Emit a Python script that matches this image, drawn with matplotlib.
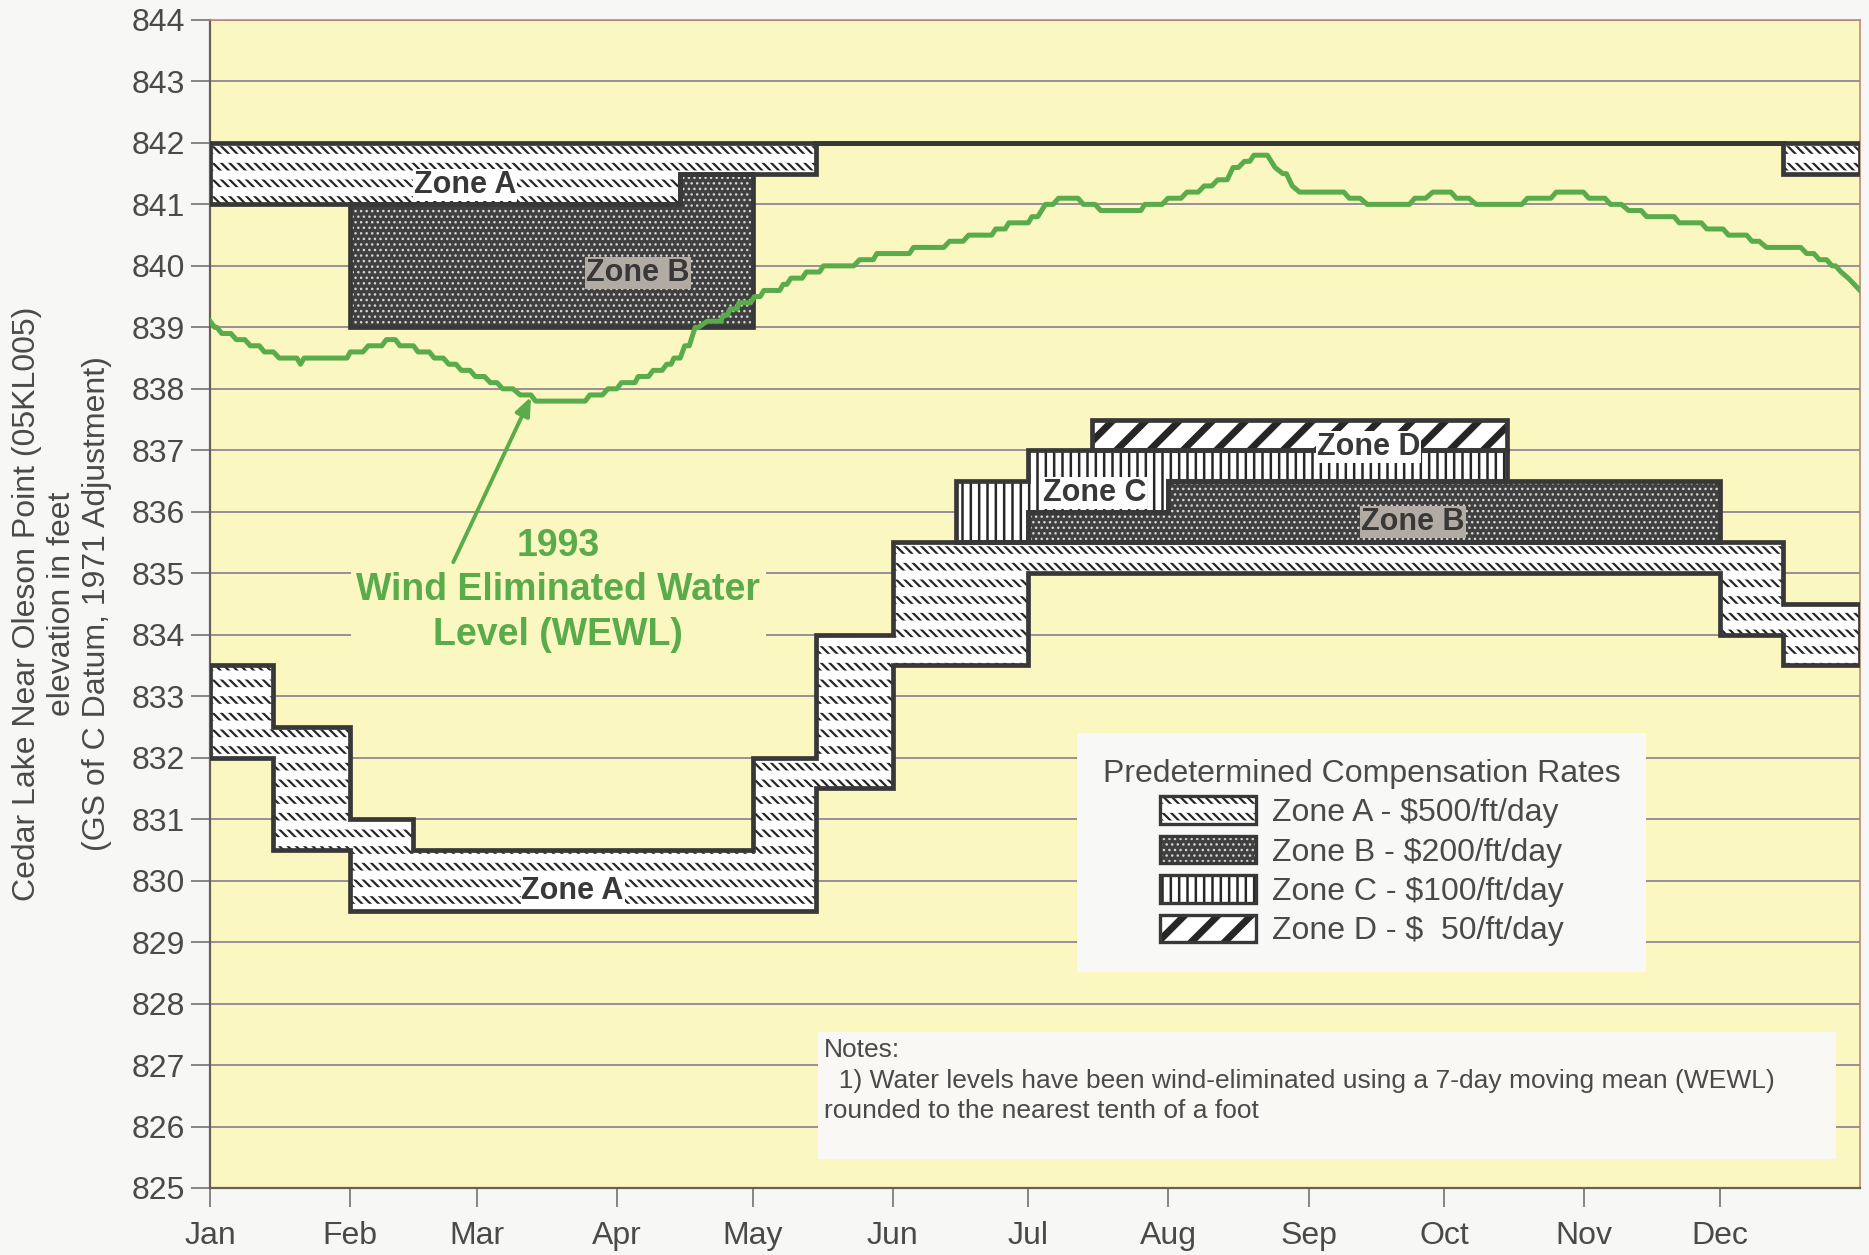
import matplotlib
matplotlib.use("Agg")
import matplotlib.pyplot as plt
from matplotlib.patches import Patch, Rectangle
from matplotlib.legend_handler import HandlerTuple, HandlerPatch

plt.rcParams['font.family'] = ['Liberation Sans', 'DejaVu Sans']

# ---------------- data ----------------
month_start_day = [0, 31, 59, 90, 120, 151, 181, 212, 243, 273, 304, 334]
month_labels = ['Jan', 'Feb', 'Mar', 'Apr', 'May', 'Jun',
                'Jul', 'Aug', 'Sep', 'Oct', 'Nov', 'Dec']
elev_ticks = list(range(825, 845))

# Zone A (lower, drawdown band): segment edges (day of year) and elevations
zoneA_low_edges = [0, 14, 31, 45, 120, 134, 151, 181, 334, 348, 365]
zoneA_low_top = [833.5, 832.5, 831.0, 830.5, 832.0, 834.0, 835.5, 835.5, 835.5, 834.5]
zoneA_low_bot = [832.0, 830.5, 829.5, 829.5, 829.5, 831.5, 833.5, 835.0, 834.0, 833.5]

# Zone A (upper, flooding band)
zoneA_up_edges = [0, 104, 134, 348, 365]
zoneA_up_top = [842.0, 842.0, 842.0, 842.0]
zoneA_up_bot = [841.0, 841.5, 842.0, 841.5]

# Zone B (upper)
zoneB_up_edges = [31, 104, 120]
zoneB_up_top = [841.0, 841.5]
zoneB_up_bot = [839.0, 839.0]

# Zone B (lower)
zoneB_low_edges = [181, 212, 334]
zoneB_low_top = [836.0, 836.5]
zoneB_low_bot = [835.5, 835.5]

# Zone C
zoneC_edges = [165, 181, 212, 287]
zoneC_top = [836.5, 837.0, 837.0]
zoneC_bot = [835.5, 836.0, 836.5]

# Zone D
zoneD_edges = [195, 287]
zoneD_top = [837.5]
zoneD_bot = [837.0]

# 1993 WEWL (7-day mean rounded to 0.1 ft): plateaus (start day, end day, level)
wewl_start = [0, 1, 2.6, 5.8, 8.9, 12, 15.3, 20, 20.8, 31, 35, 39, 42, 46, 49.6,
              52.8, 55.6, 58.7, 62, 64.7, 68.6, 72, 84, 88, 91, 94.7, 98, 101,
              102.6, 105, 107.3, 110, 113.5, 115, 117, 120.4, 122.5, 126.8, 128.5,
              131.9, 135.7, 143.7, 147.5, 155.6, 163.6, 167.8, 173.8, 176.7, 181.8,
              184.8, 187.7, 193.2, 197, 206.8, 211.9, 216.1, 219.9, 222.9, 226.3,
              228.8, 230.9, 235.6, 237.3, 239.4, 241, 252, 256, 266.5, 270.5, 275.7,
              280.1, 291.4, 297.8, 305, 309.8, 313.8, 317.8, 325, 331.1, 335.9,
              341.1, 344.3, 353.2, 356, 358.8, 360.8, 362.4, 365]
wewl_end = [0, 1.5, 4.6, 7.7, 10.9, 14, 19.2, 20, 30.3, 33.8, 38, 41, 45, 48.5, 51.6,
            54.4, 57.5, 60.7, 63.5, 67, 71, 83, 86.8, 90, 94, 97, 100, 102,
            104, 106, 108, 113, 114.5, 116.6, 119.6, 121.7, 126, 127.6, 131,
            134.8, 142.4, 146.7, 154.7, 162.3, 166.6, 172.9, 175.9, 181, 183.1,
            186.5, 192, 195.8, 205.9, 210.6, 214.8, 218.6, 221.6, 225, 227.5,
            230, 233.9, 235.6, 238.1, 239.4, 250.8, 254.4, 265.3, 268.9, 274.5, 278.5,
            290.2, 296.6, 303.8, 308.6, 312.2, 316.6, 323.9, 329.9, 334.7, 339.9,
            342.7, 351.9, 354.8, 357.6, 359.6, 360.8, 362.4, 365]
wewl_ft = [839.1, 839.0, 838.9, 838.8, 838.7, 838.6, 838.5, 838.4, 838.5, 838.6, 838.7,
           838.8, 838.7, 838.6, 838.5, 838.4, 838.3, 838.2, 838.1, 838.0, 837.9, 837.8,
           837.9, 838.0, 838.1, 838.2, 838.3, 838.4, 838.5, 838.7, 839.0, 839.1, 839.2,
           839.3, 839.4, 839.5, 839.6, 839.7, 839.8, 839.9, 840.0, 840.1, 840.2, 840.3,
           840.4, 840.5, 840.6, 840.7, 840.8, 841.0, 841.1, 841.0, 840.9, 841.0, 841.1,
           841.2, 841.3, 841.4, 841.6, 841.7, 841.8, 841.6, 841.5, 841.3, 841.2, 841.1,
           841.0, 841.1, 841.2, 841.1, 841.0, 841.1, 841.2, 841.1, 841.0, 840.9, 840.8,
           840.7, 840.6, 840.5, 840.4, 840.3, 840.2, 840.1, 840.0, 839.9, 839.8, 839.6]

legend_title = 'Predetermined Compensation Rates'
legend_labels = ['Zone A - $500/ft/day', 'Zone B - $200/ft/day',
                 'Zone C - $100/ft/day', 'Zone D - $  50/ft/day']

# ---------------- style ----------------
AX_BG = '#fbf7c0'
FIG_BG = '#f7f7f5'
DARK = '#383838'
HATCH = '#262626'
TXT = '#4a4a4a'
GRID = '#8f8899'
GREEN = '#5aab4b'
B_FACE = '#404040'
B_DOTS = '#d6d6d6'
OUT_LW = 3.4

STYLES = {
    'A': [dict(facecolor='white', edgecolor=HATCH, hatch='\\\\\\\\', hlw=1.6),
          dict(facecolor='none', edgecolor='white', hatch='-', hlw=6.5)],
    'B': [dict(facecolor=B_FACE, edgecolor=B_DOTS, hatch='...', hlw=1.0)],
    'C': [dict(facecolor='white', edgecolor=HATCH, hatch='||', hlw=1.8)],
    'D': [dict(facecolor='white', edgecolor=HATCH, hatch='/', hlw=5.0)],
}

fig = plt.figure(figsize=(18.69, 12.55), dpi=100, facecolor=FIG_BG)
ax = fig.add_axes([0.1124, 0.0534, 0.8828, 0.9307])
ax.set_facecolor(AX_BG)
ax.set_xlim(0, 365)
ax.set_ylim(825, 844)

ax.set_yticks(elev_ticks)
ax.set_yticklabels([str(v) for v in elev_ticks])
ax.set_xticks(month_start_day)
ax.set_xticklabels(month_labels)
ax.tick_params(axis='y', direction='out', length=14, width=1.3, color='#7d7d7d',
               pad=4, labelsize=23, labelcolor=TXT)
ax.tick_params(axis='x', direction='out', length=14, width=1.3, color='#7d7d7d',
               pad=10, labelsize=23, labelcolor=TXT)
ax.grid(axis='y', color=GRID, lw=1.3, zorder=0)
ax.set_axisbelow(True)
for s in ['top', 'right']:
    ax.spines[s].set_color('#b98a78')
    ax.spines[s].set_linewidth(1.2)
for s in ['left', 'bottom']:
    ax.spines[s].set_color('#6a5e58')
    ax.spines[s].set_linewidth(1.6)


def band(edges, lower, upper):
    xs, ys = [], []
    for i in range(len(upper)):
        xs += [edges[i], edges[i + 1]]
        ys += [upper[i], upper[i]]
    for i in reversed(range(len(lower))):
        xs += [edges[i + 1], edges[i]]
        ys += [lower[i], lower[i]]
    return xs, ys


def set_hlw(p, lw):
    if hasattr(p, 'set_hatch_linewidth'):
        p.set_hatch_linewidth(lw)


def draw_zone(edges, lower, upper, kind):
    xs, ys = band(edges, lower, upper)
    for k, st in enumerate(STYLES[kind]):
        p, = ax.fill(xs, ys, facecolor=st['facecolor'], edgecolor=st['edgecolor'],
                     hatch=st['hatch'], lw=0, zorder=2 + 0.1 * k)
        set_hlw(p, st['hlw'])
    ax.fill(xs, ys, facecolor='none', edgecolor=DARK, lw=OUT_LW, joinstyle='miter', zorder=3)


draw_zone(zoneA_low_edges, zoneA_low_bot, zoneA_low_top, 'A')
draw_zone(zoneA_up_edges, zoneA_up_bot, zoneA_up_top, 'A')
draw_zone(zoneB_up_edges, zoneB_up_bot, zoneB_up_top, 'B')
draw_zone(zoneB_low_edges, zoneB_low_bot, zoneB_low_top, 'B')
draw_zone(zoneC_edges, zoneC_bot, zoneC_top, 'C')
draw_zone(zoneD_edges, zoneD_bot, zoneD_top, 'D')

# WEWL line
lx, ly = [], []
for s, e, v in zip(wewl_start, wewl_end, wewl_ft):
    lx += [s, e]
    ly += [v, v]
ax.plot(lx, ly, color=GREEN, lw=3.6, solid_joinstyle='round', zorder=6)

# zone labels
lab_kw = dict(ha='center', va='center', fontsize=22, fontweight='bold', color=DARK, zorder=7)
white_box = dict(facecolor='white', edgecolor='none', pad=0.6)
grey_box = dict(facecolor='#b2aba4', edgecolor='none', pad=0.6)
ax.text(56.4, 841.32, 'Zone A', bbox=white_box, **lab_kw)
ax.text(94.7, 839.89, 'Zone B', bbox=grey_box, **lab_kw)
ax.text(80.2, 829.83, 'Zone A', bbox=white_box, **lab_kw)
ax.text(195.7, 836.30, 'Zone C', bbox=white_box, **lab_kw)
ax.text(256.3, 837.06, 'Zone D', bbox=white_box, **lab_kw)
ax.text(266.1, 835.84, 'Zone B', bbox=grey_box, **lab_kw)

# annotation
ax.text(77, 834.72, '1993\nWind Eliminated Water\nLevel (WEWL)', ha='center', va='center',
        fontsize=27, fontweight='bold', color=GREEN, linespacing=1.3, zorder=4,
        bbox=dict(facecolor=AX_BG, edgecolor='none', pad=4))
ax.annotate('', xy=(71.0, 837.87), xytext=(53.8, 835.18),
            arrowprops=dict(arrowstyle='-|>,head_length=1.1,head_width=0.45', color=GREEN,
                            lw=2.8, shrinkA=0, shrinkB=0), zorder=8)


# legend
class HatchPatchHandler(HandlerPatch):
    def create_artists(self, legend, orig_handle, xdescent, ydescent, width, height,
                       fontsize, trans):
        arts = super().create_artists(legend, orig_handle, xdescent, ydescent, width,
                                      height, fontsize, trans)
        for a in arts:
            if hasattr(orig_handle, 'get_hatch_linewidth'):
                a.set_hatch_linewidth(orig_handle.get_hatch_linewidth())
        return arts


def legend_handle(kind):
    parts = []
    for st in STYLES[kind]:
        p = Patch(facecolor=st['facecolor'], edgecolor=st['edgecolor'], hatch=st['hatch'], lw=0)
        set_hlw(p, st['hlw'])
        parts.append(p)
    parts.append(Patch(facecolor='none', edgecolor=DARK, lw=2.4))
    return tuple(parts)


handles = [legend_handle(k) for k in 'ABCD']
leg = ax.legend(handles, legend_labels, title=legend_title, loc='upper left',
                bbox_to_anchor=(0.516, 0.403), fontsize=23, title_fontsize=23,
                frameon=True, fancybox=False, framealpha=1, facecolor='#f8f8f6',
                edgecolor='none', borderpad=0.8, handlelength=3.0, handleheight=0.95,
                handletextpad=0.5, labelspacing=0.24,
                handler_map={tuple: HandlerTuple(ndivide=1, pad=0),
                             Patch: HatchPatchHandler()})
leg.get_title().set_color(TXT)
for t in leg.get_texts():
    t.set_color(TXT)
leg.set_zorder(9)

# notes box
ax.add_patch(Rectangle((0.3685, 0.0248), 0.617, 0.1088, transform=ax.transAxes,
                       facecolor='#f9f8f4', edgecolor='none', zorder=9))
ax.text(0.372, 0.1285, 'Notes:\n  1) Water levels have been wind-eliminated using a 7-day moving mean (WEWL)\n'
        'rounded to the nearest tenth of a foot', transform=ax.transAxes, ha='left', va='top',
        fontsize=19, color=TXT, linespacing=1.35, zorder=10)

# y label
fig.text(62 / 1869, 1 - 604 / 1255,
         'Cedar Lake Near Oleson Point (05KL005)\nelevation in feet\n(GS of C Datum, 1971 Adjustment)',
         rotation=90, ha='center', va='center', multialignment='center',
         fontsize=23, color=TXT, linespacing=1.2)

fig.savefig('out.png', dpi=100, facecolor=FIG_BG)
